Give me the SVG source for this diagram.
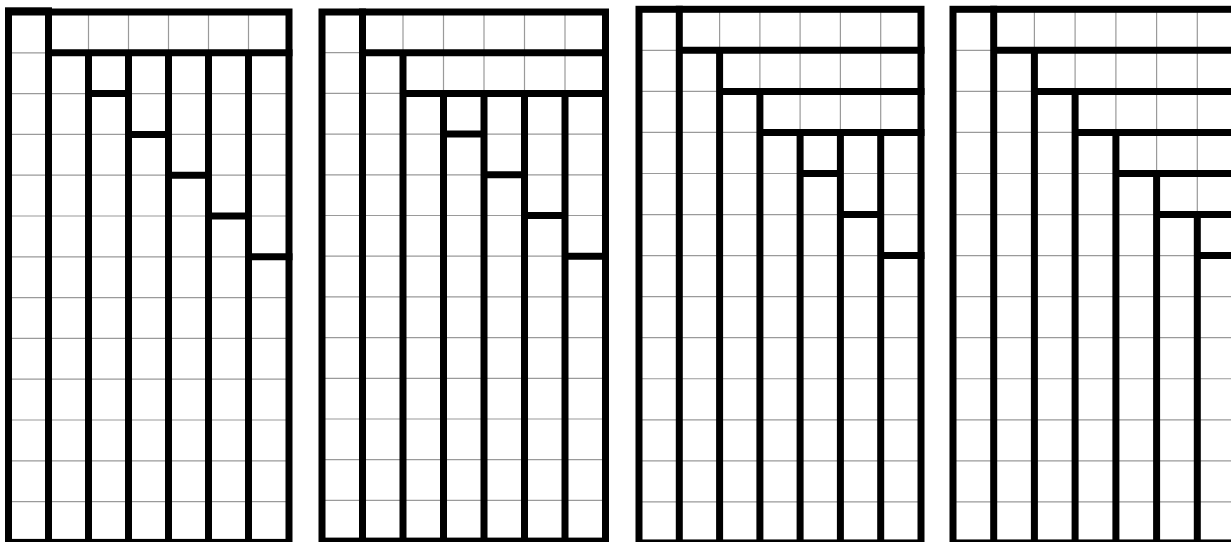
<svg xmlns="http://www.w3.org/2000/svg" width="1231" height="542" viewBox="0 0 1231 542">
<style>
.g{stroke:#9a9a9a;stroke-width:1.2;fill:none}
.t{stroke:#000;stroke-width:7;fill:none;stroke-linecap:square}
.b{stroke:#000;stroke-width:7;fill:none}
</style>
<rect width="1231" height="542" fill="#fff"/>
<g id="panel1">
<path class="g" d="M48.5 12V542.4M88.5 12V542.4M128.5 12V542.4M168.5 12V542.4M208.5 12V542.4M248.5 12V542.4M8.5 52.8H289M8.5 93.6H289M8.5 134.4H289M8.5 175.2H289M8.5 216H289M8.5 256.8H289M8.5 297.6H289M8.5 338.4H289M8.5 379.2H289M8.5 420H289M8.5 460.8H289M8.5 501.6H289"/>
<rect class="b" x="8.5" y="12" width="280.5" height="530.4"/>
<rect x="5" y="7.3" width="47" height="5" fill="#000"/>
<path class="t" d="M48.5 12V542.4M48.5 52.8H289M88.5 52.8V542.4M128.5 52.8V542.4M168.5 52.8V542.4M208.5 52.8V542.4M248.5 52.8V542.4M88.5 93.6H128.5M128.5 134.4H168.5M168.5 175.2H208.5M208.5 216H248.5M248.5 256.8H289"/>
</g>
<g id="panel2">
<path class="g" d="M362.5 12V541.1M403 12V541.1M443.5 12V541.1M484 12V541.1M524.5 12V541.1M565 12V541.1M322 52.7H605.5M322 93.4H605.5M322 134.1H605.5M322 174.8H605.5M322 215.5H605.5M322 256.2H605.5M322 296.9H605.5M322 337.6H605.5M322 378.3H605.5M322 419H605.5M322 459.7H605.5M322 500.4H605.5"/>
<rect class="b" x="322" y="12" width="283.5" height="529.1"/>
<path class="t" d="M362.5 12V541.1M362.5 52.7H605.5M403 52.7V541.1M403 93.4H605.5M443.5 93.4V541.1M484 93.4V541.1M524.5 93.4V541.1M565 93.4V541.1M443.5 134.1H484M484 174.8H524.5M524.5 215.5H565M565 256.2H605.5"/>
</g>
<g id="panel3">
<path class="g" d="M679.3 9.3V542.95M719.6 9.3V542.95M759.9 9.3V542.95M800.1 9.3V542.95M840.4 9.3V542.95M880.7 9.3V542.95M639 50.35H921M639 91.4H921M639 132.45H921M639 173.5H921M639 214.55H921M639 255.6H921M639 296.65H921M639 337.7H921M639 378.75H921M639 419.8H921M639 460.85H921M639 501.9H921"/>
<rect class="b" x="639" y="9.3" width="282" height="533.65"/>
<path class="t" d="M679.3 9.3V542.95M679.3 50.35H921M719.6 50.35V542.95M719.6 91.4H921M759.9 91.4V542.95M759.9 132.45H921M800.1 132.45V542.95M840.4 132.45V542.95M880.7 132.45V542.95M800.1 173.5H840.4M840.4 214.55H880.7M880.7 255.6H921"/>
</g>
<g id="panel4">
<path class="g" d="M993.7 9.3V542.95M1034.4 9.3V542.95M1075.1 9.3V542.95M1115.9 9.3V542.95M1156.6 9.3V542.95M1197.3 9.3V542.95M953 50.35H1238M953 91.4H1238M953 132.45H1238M953 173.5H1238M953 214.55H1238M953 255.6H1238M953 296.65H1238M953 337.7H1238M953 378.75H1238M953 419.8H1238M953 460.85H1238M953 501.9H1238"/>
<rect class="b" x="953" y="9.3" width="285" height="533.65"/>
<path class="t" d="M993.7 9.3V542.95M993.7 50.35H1238M1034.4 50.35V542.95M1034.4 91.4H1238M1075.1 91.4V542.95M1075.1 132.45H1238M1115.9 132.45V542.95M1115.9 173.5H1238M1156.6 173.5V542.95M1156.6 214.55H1238M1197.3 214.55V542.95M1197.3 255.6H1238"/>
</g>
</svg>
